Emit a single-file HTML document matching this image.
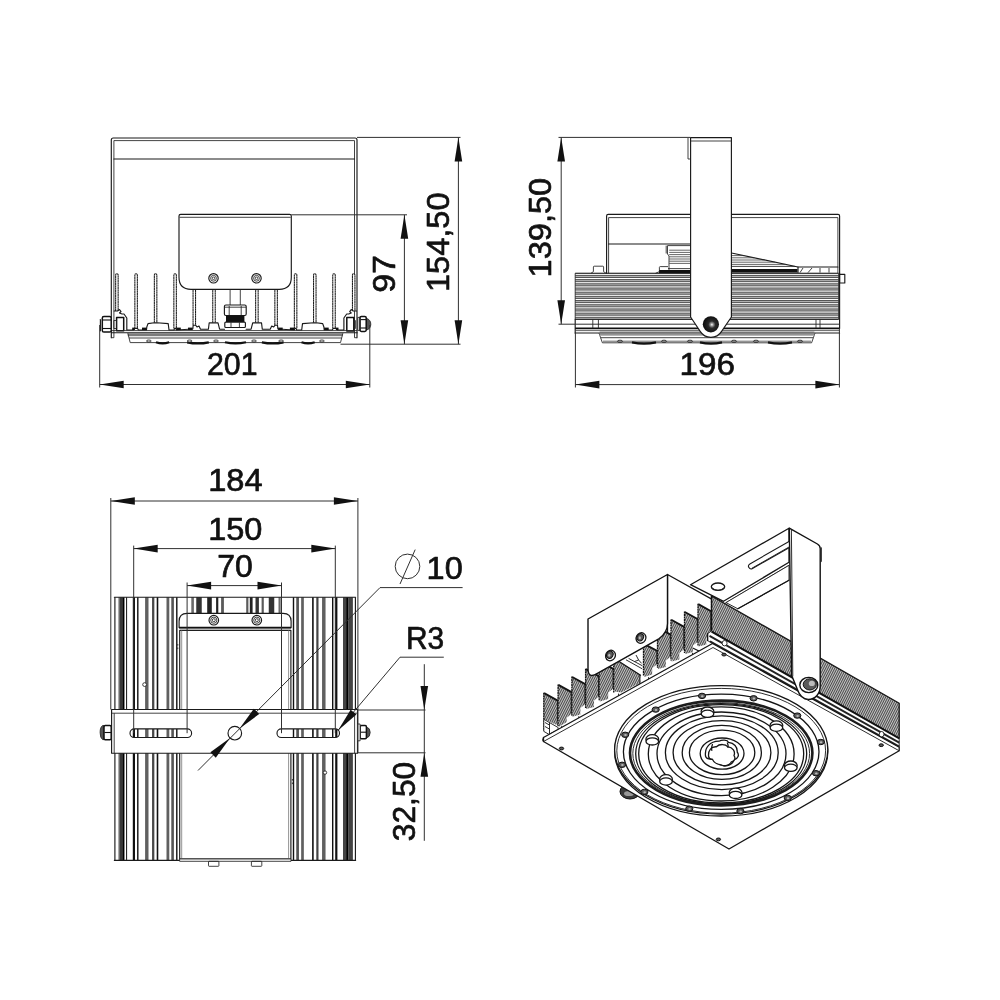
<!DOCTYPE html>
<html lang="en"><head><meta charset="utf-8"><title>Luminaire dimensions</title>
<style>
html,body{margin:0;padding:0;background:#fff}
svg{display:block;filter:grayscale(1)}
text{font-family:"Liberation Sans",sans-serif;fill:#111;stroke:#111;stroke-width:.65;stroke-linejoin:round}
.m{fill:none;stroke:#1a1a1a;stroke-width:1.15;stroke-linejoin:round;stroke-linecap:round}
.mw{fill:#fff;stroke:#1a1a1a;stroke-width:1.15;stroke-linejoin:round}
.mk{fill:none;stroke:#111;stroke-width:1.7}
.t{fill:none;stroke:#222;stroke-width:.85;stroke-linejoin:round}
.tw{fill:#fff;stroke:#222;stroke-width:.85;stroke-linejoin:round}
.d{fill:none;stroke:#303030;stroke-width:1}
.a{fill:#111;stroke:none}
.k{fill:#111;stroke:none}
.fin{fill:#fff;stroke:#1a1a1a;stroke-width:1.05;stroke-dasharray:2.1 .25}
.g{fill:none;stroke:#333;stroke-width:.75}
.hs{fill:#b4b4b4;stroke:none}
.rib{fill:none;stroke:#1c1c1c;stroke-width:.72}
.rib2{fill:none;stroke:#fff;stroke-width:.8}
.gf{fill:#888;stroke:none}
.ball{fill:#1c1c1c;stroke:none}
.hl{fill:#bbb;stroke:none}
.hat{fill:url(#hat);stroke:none}
.finl{fill:none;stroke:#111;stroke-width:1.3;stroke-dasharray:2 .5}
.mw2{fill:#fff;stroke:#111;stroke-width:1.4;stroke-linejoin:round}
.thick{fill:none;stroke:#1c1c1c;stroke-width:2.6}
.blob{fill:#3a3a3a;stroke:#111;stroke-width:1}
.blob2{fill:#999;stroke:none}
.bolt{fill:#5a5a5a;stroke:#111;stroke-width:1}
.rk{fill:none;stroke:#222;stroke-width:1.9}
.ftop{fill:none;stroke:#151515;stroke-width:1.9}
.r{fill:none;stroke:#151515;stroke-width:1.3}
.rw{fill:#fff;stroke:#151515;stroke-width:1.3}
.bn{fill:#fff;stroke:#111;stroke-width:1.5;stroke-linejoin:round}
.bl{fill:none;stroke:#111;stroke-width:1.1}
.dome{fill:#555;stroke:#222;stroke-width:.8}
#view4 .m{stroke-width:1.3;stroke:#151515}
#view4 .mw{stroke-width:1.3;stroke:#151515}
#view4 .t{stroke-width:.95}
#view4 .tw{stroke-width:.95}
.ballg{fill:url(#ballg);stroke:none}
.gfg{fill:url(#gfg);stroke:none}
.gf2{fill:#7c7c7c;stroke:none}
.lb{fill:none;stroke:#111;stroke-width:2.2}
.lt{fill:none;stroke:#777;stroke-width:.8}
</style></head>
<body>
<svg width="1000" height="1000" viewBox="0 0 1000 1000">
<rect width="1000" height="1000" fill="#fff"/>
<defs>
<pattern id="hat" width="8" height="1.12" patternUnits="userSpaceOnUse" patternTransform="rotate(29.7)">
<rect width="8" height="1.12" fill="#c6c6c6"/><rect width="8" height=".56" fill="#4a4a4a"/>
</pattern>
<radialGradient id="ballg" cx="0.56" cy="0.52" r="0.55"><stop offset="0" stop-color="#fff"/><stop offset="0.16" stop-color="#999"/><stop offset="0.4" stop-color="#2a2a2a"/><stop offset="1" stop-color="#0c0c0c"/></radialGradient>
<linearGradient id="gfg" x1="0" y1="0" x2="0" y2="1"><stop offset="0" stop-color="#666"/><stop offset="1" stop-color="#aaa"/></linearGradient>
</defs>

<g id="view1">
<path class="m" d="M111.3,337.7 V140 Q111.3,138 113.3,138 H355 Q357,138 357,140 V337.7"/>
<path class="t" d="M113.9,337.7 V140.6 H354.5 V337.7"/>
<line class="t" x1="111.3" y1="337.7" x2="113.9" y2="337.7"/>
<line class="t" x1="354.5" y1="337.7" x2="357" y2="337.7"/>
<line class="m" x1="113.9" y1="159" x2="354.5" y2="159"/>
<path class="fin" d="M115.65,311 V274.9 A1.25,1.25 0 0 1 118.15,274.9 V311"/>
<path class="fin" d="M134.85,328.4 V274.9 A1.25,1.25 0 0 1 137.35,274.9 V328.4"/>
<path class="fin" d="M154.35,322.8 V274.9 A1.25,1.25 0 0 1 156.85,274.9 V322.8"/>
<path class="fin" d="M173.85,328.4 V274.9 A1.25,1.25 0 0 1 176.35,274.9 V328.4"/>
<path class="fin" d="M193.05,325.2 V290.5 A1.25,1.25 0 0 1 195.55,290.5 V325.2"/>
<path class="fin" d="M212.75,322.8 V290.5 A1.25,1.25 0 0 1 215.25,290.5 V322.8"/>
<path class="fin" d="M255.65,322.8 V290.5 A1.25,1.25 0 0 1 258.15,290.5 V322.8"/>
<path class="fin" d="M274.85,325.2 V290.5 A1.25,1.25 0 0 1 277.35,290.5 V325.2"/>
<path class="fin" d="M294.35,328.4 V274.9 A1.25,1.25 0 0 1 296.85,274.9 V328.4"/>
<path class="fin" d="M313.55,322.8 V274.9 A1.25,1.25 0 0 1 316.05,274.9 V322.8"/>
<path class="fin" d="M332.75,328.4 V274.9 A1.25,1.25 0 0 1 335.25,274.9 V328.4"/>
<path class="fin" d="M352.45,311 V274.9 A1.25,1.25 0 0 1 354.95,274.9 V311"/>
<path class="m" d="M114.2,311 L117.5,311 L119.5,309.5 L121,311.5 L119.5,313 L122,314 L124,314 L126.8,318 L126.8,330 L133.5,330 L134.8,328.4 L137.4,328.4 L138.5,330 L146.5,330 L146.8,327 L148,323.6 L154.3,322.8 L156.9,322.8 L168.2,323.6 L169,330 L174,330 L174.6,328.4 L175.8,328.4 L176.4,330 L192.8,329 L193.2,325.2 L195.6,325.2 L197,327 L199,326 L200.5,329.2 L208.4,329.2 L209.2,322.8 L212.8,322.8 L215.2,322.8 L218,322.8 L219.6,329.2 L224.5,329.2"/>
<path class="m" d="M356.5,311 L353.2,311 L351.2,309.5 L349.7,311.5 L351.2,313 L348.7,314 L346.7,314 L343.9,318 L343.9,330 L337.2,330 L335.9,328.4 L333.3,328.4 L332.2,330 L324.2,330 L323.9,327 L322.7,323.6 L316.4,322.8 L313.8,322.8 L302.5,323.6 L301.7,330 L296.7,330 L296.1,328.4 L294.9,328.4 L294.3,330 L277.9,329 L277.5,325.2 L275.1,325.2 L273.7,327 L271.7,326 L270.2,329.2 L262.3,329.2 L261.5,322.8 L257.9,322.8 L255.5,322.8 L252.7,322.8 L251.1,329.2 L246.2,329.2"/>
<rect class="k" x="132.2" y="327.6" width="2.6" height="2.4"/>
<rect class="k" x="335.9" y="327.6" width="2.6" height="2.4"/>
<rect class="k" x="142" y="327.6" width="4.6" height="2.4"/>
<rect class="k" x="324.1" y="327.6" width="4.6" height="2.4"/>
<rect class="k" x="176.2" y="327.6" width="4.6" height="2.4"/>
<rect class="k" x="289.9" y="327.6" width="4.6" height="2.4"/>
<rect class="k" x="188" y="327.6" width="4.6" height="2.4"/>
<rect class="k" x="278.1" y="327.6" width="4.6" height="2.4"/>
<rect class="bn" x="116.6" y="317.4" width="7.1" height="13.3"/>
<rect class="bn" x="346.8" y="317.4" width="7" height="13.5"/>
<line class="t" x1="111.5" y1="330.6" x2="357.2" y2="330.6"/>
<line class="m" x1="111.5" y1="332.7" x2="357.2" y2="332.7"/>
<rect class="gf2" x="127.8" y="333.2" width="214.9" height="3"/>
<path class="t" d="M127.8,333.2 L130.2,342.6 H340.5 L342.9,333.2"/>
<line class="t" x1="129" y1="338" x2="341.7" y2="338"/>
<path class="lb" d="M156,342.3 Q162.6,344.6 169.2,342.3"/>
<path class="lb" d="M187.2,342.3 Q198,344.6 208.8,342.3"/>
<path class="lb" d="M225,342.3 Q235.5,344.6 246,342.3"/>
<path class="lb" d="M261.9,342.3 Q272.7,344.6 283.5,342.3"/>
<path class="lb" d="M301.5,342.3 Q308.1,344.6 314.7,342.3"/>
<ellipse class="tw" cx="148.8" cy="341" rx="2.4" ry="1"/>
<ellipse class="tw" cx="189.6" cy="341" rx="2.4" ry="1"/>
<ellipse class="tw" cx="216" cy="341" rx="2.4" ry="1"/>
<ellipse class="tw" cx="254" cy="341" rx="2.4" ry="1"/>
<ellipse class="tw" cx="281.1" cy="341" rx="2.4" ry="1"/>
<ellipse class="tw" cx="321.9" cy="341" rx="2.4" ry="1"/>
<rect class="bn" x="102.3" y="316.6" width="8.9" height="15.4" rx="1.6"/>
<line class="bl" x1="102.8" y1="320" x2="111" y2="320"/>
<line class="bl" x1="102.8" y1="328.5" x2="111" y2="328.5"/>
<line class="m" x1="100.4" y1="319.6" x2="100.4" y2="330.8"/>
<rect class="t" x="113.8" y="320.5" width="2.7" height="8"/>
<path class="dome" d="M366,318.2 Q370.8,319.5 370.8,324.2 Q370.8,329 366,330.2 Z"/>
<rect class="bn" x="360" y="316.4" width="6.2" height="15" rx="1.4"/>
<line class="bl" x1="360.4" y1="319.6" x2="366" y2="319.6"/>
<line class="bl" x1="360.4" y1="328" x2="366" y2="328"/>
<rect class="t" x="357.8" y="317.4" width="2.2" height="13"/>
<rect class="t" x="353.8" y="320.5" width="1.6" height="8"/>
<path class="mw" d="M179,216 Q179,214.3 180.7,214.3 H289.6 Q291.3,214.3 291.3,216 V277.3 Q291.3,289.3 279.3,289.3 H191 Q179,289.3 179,277.3 Z"/>
<line class="t" x1="179.6" y1="217.3" x2="290.7" y2="217.3"/>
<circle class="m" cx="213.5" cy="278.3" r="4.7"/>
<circle class="t" cx="213.5" cy="278.3" r="2.9"/>
<circle class="t" cx="213.5" cy="278.3" r="1.3"/>
<circle class="m" cx="256.5" cy="278.3" r="4.7"/>
<circle class="t" cx="256.5" cy="278.3" r="2.9"/>
<circle class="t" cx="256.5" cy="278.3" r="1.3"/>
<line class="t" x1="230.1" y1="289.3" x2="230.1" y2="305"/>
<line class="t" x1="240.3" y1="289.3" x2="240.3" y2="305"/>
<rect class="mw" x="224.4" y="305" width="21.8" height="10.5" rx="1.5"/>
<line class="t" x1="229.2" y1="306" x2="229.2" y2="315"/>
<line class="t" x1="241.2" y1="306" x2="241.2" y2="315"/>
<line class="t" x1="224.6" y1="307.2" x2="246" y2="307.2"/>
<rect class="k" x="226" y="315.5" width="18.4" height="6.6"/>
<rect class="mw" x="224.8" y="322.1" width="20.6" height="5.4" rx="1"/>
<line class="t" x1="231" y1="322.3" x2="231" y2="327.3"/>
<line class="t" x1="239.4" y1="322.3" x2="239.4" y2="327.3"/>
<line class="d" x1="357" y1="137.4" x2="460.5" y2="137.4"/>
<line class="d" x1="340.5" y1="344.2" x2="460.5" y2="344.2"/>
<line class="d" x1="458.4" y1="137.4" x2="458.4" y2="344.2"/>
<path class="a" d="M458.4,137.4 L462.2,161.4 L454.6,161.4Z"/>
<path class="a" d="M458.4,344.2 L454.6,320.2 L462.2,320.2Z"/>
<line class="d" x1="291.3" y1="214.8" x2="407" y2="214.8"/>
<line class="d" x1="404.4" y1="214.8" x2="404.4" y2="344.2"/>
<path class="a" d="M404.4,214.8 L408.2,238.8 L400.6,238.8Z"/>
<path class="a" d="M404.4,344.2 L400.6,320.2 L408.2,320.2Z"/>
<line class="d" x1="99.7" y1="325" x2="99.7" y2="387.5"/>
<line class="d" x1="369.8" y1="325" x2="369.8" y2="387.5"/>
<line class="d" x1="99.7" y1="384.5" x2="369.8" y2="384.5"/>
<path class="a" d="M99.7,384.5 L123.7,380.7 L123.7,388.3Z"/>
<path class="a" d="M369.8,384.5 L345.8,388.3 L345.8,380.7Z"/>
<text x="207" y="375" font-size="30.5" text-anchor="start" textLength="50.6" lengthAdjust="spacingAndGlyphs">201</text>
<text x="395.2" y="292.8" font-size="30.5" text-anchor="start" textLength="37.8" lengthAdjust="spacingAndGlyphs" transform="rotate(-90 395.2 292.8)">97</text>
<text x="448.7" y="292" font-size="30.5" text-anchor="start" textLength="99.6" lengthAdjust="spacingAndGlyphs" transform="rotate(-90 448.7 292)">154,50</text>
</g>
<g id="view2">
<path class="m" d="M606.6,273.3 V216 Q606.6,214.4 608.2,214.4 H838 Q839.6,214.4 839.6,216 V273.3"/>
<path class="t" d="M608.6,273.3 V217.6 H837.9"/>
<line class="t" x1="837.9" y1="217.6" x2="837.9" y2="273.3"/>
<line class="m" x1="608.6" y1="244" x2="690.4" y2="244"/>
<path class="t" d="M690.4,245.6 H667.5 V254 L669,256 V270"/>
<line class="t" x1="666.2" y1="245.6" x2="666.2" y2="253.5"/>
<line class="g" x1="669.2" y1="250.2" x2="690.4" y2="250.2"/>
<line class="g" x1="669.2" y1="252.4" x2="690.4" y2="252.4"/>
<line class="g" x1="669.2" y1="254.6" x2="690.4" y2="254.6"/>
<line class="g" x1="669.2" y1="256.8" x2="690.4" y2="256.8"/>
<line class="g" x1="669.2" y1="259" x2="690.4" y2="259"/>
<line class="g" x1="669.2" y1="261.2" x2="690.4" y2="261.2"/>
<line class="g" x1="669.2" y1="263.4" x2="690.4" y2="263.4"/>
<line class="t" x1="668" y1="268.6" x2="690.4" y2="268.6"/>
<rect class="k" x="659" y="270" width="31.4" height="3.2"/>
<path class="m" d="M731.5,253 L798,267 H837.9"/>
<line class="g" x1="731.5" y1="255.6" x2="743.85" y2="255.6"/>
<line class="g" x1="731.5" y1="257.8" x2="754.3" y2="257.8"/>
<line class="g" x1="731.5" y1="260" x2="764.75" y2="260"/>
<line class="g" x1="731.5" y1="262.2" x2="775.2" y2="262.2"/>
<line class="g" x1="731.5" y1="264.4" x2="785.65" y2="264.4"/>
<line class="t" x1="731.5" y1="266.4" x2="795" y2="266.4"/>
<rect class="k" x="731.5" y="269" width="66" height="3.6"/>
<path class="m" d="M798,267 V272.4"/>
<path class="t" d="M800,272.6 L803,268 M808,272.6 L812,268 M820,272.6 V268 M829,272.6 V268"/>
<path class="t" d="M591,273.3 L593.4,271.6 V267 Q593.4,266.2 594.2,266.2 H602.8 Q603.6,266.2 603.6,267 V271.6 L606,273.3"/>
<path class="t" d="M655.5,273.3 L659.4,271.6 V267.4 Q659.4,266.6 660.2,266.6 H668"/>
<rect class="m" x="839.6" y="274.4" width="5.2" height="8.6"/>
<rect class="hs" x="575.2" y="275.4" width="263.4" height="2.1"/>
<rect class="hs" x="575.2" y="279.59" width="263.4" height="2.1"/>
<rect class="hs" x="575.2" y="283.78" width="263.4" height="2.1"/>
<rect class="hs" x="575.2" y="287.97" width="263.4" height="2.1"/>
<rect class="hs" x="575.2" y="292.16" width="263.4" height="2.1"/>
<rect class="hs" x="575.2" y="296.35" width="263.4" height="2.1"/>
<rect class="hs" x="575.2" y="300.54" width="263.4" height="2.1"/>
<rect class="hs" x="575.2" y="304.73" width="263.4" height="2.1"/>
<rect class="hs" x="575.2" y="308.92" width="263.4" height="2.1"/>
<rect class="hs" x="575.2" y="313.11" width="263.4" height="2.1"/>
<rect class="hs" x="575.2" y="317.3" width="263.4" height="2.1"/>
<line class="rib" x1="575.2" y1="273.3" x2="838.6" y2="273.3"/>
<line class="rib" x1="575.2" y1="275.4" x2="838.6" y2="275.4"/>
<line class="rib" x1="575.2" y1="277.49" x2="838.6" y2="277.49"/>
<line class="rib" x1="575.2" y1="279.59" x2="838.6" y2="279.59"/>
<line class="rib" x1="575.2" y1="281.68" x2="838.6" y2="281.68"/>
<line class="rib" x1="575.2" y1="283.78" x2="838.6" y2="283.78"/>
<line class="rib" x1="575.2" y1="285.87" x2="838.6" y2="285.87"/>
<line class="rib" x1="575.2" y1="287.97" x2="838.6" y2="287.97"/>
<line class="rib" x1="575.2" y1="290.06" x2="838.6" y2="290.06"/>
<line class="rib" x1="575.2" y1="292.16" x2="838.6" y2="292.16"/>
<line class="rib" x1="575.2" y1="294.25" x2="838.6" y2="294.25"/>
<line class="rib" x1="575.2" y1="296.35" x2="838.6" y2="296.35"/>
<line class="rib" x1="575.2" y1="298.45" x2="838.6" y2="298.45"/>
<line class="rib" x1="575.2" y1="300.54" x2="838.6" y2="300.54"/>
<line class="rib" x1="575.2" y1="302.64" x2="838.6" y2="302.64"/>
<line class="rib" x1="575.2" y1="304.73" x2="838.6" y2="304.73"/>
<line class="rib" x1="575.2" y1="306.83" x2="838.6" y2="306.83"/>
<line class="rib" x1="575.2" y1="308.92" x2="838.6" y2="308.92"/>
<line class="rib" x1="575.2" y1="311.02" x2="838.6" y2="311.02"/>
<line class="rib" x1="575.2" y1="313.11" x2="838.6" y2="313.11"/>
<line class="rib" x1="575.2" y1="315.21" x2="838.6" y2="315.21"/>
<line class="rib" x1="575.2" y1="317.3" x2="838.6" y2="317.3"/>
<line class="rib" x1="575.2" y1="319.4" x2="838.6" y2="319.4"/>
<rect class="t" x="575.2" y="273.3" width="263.4" height="46.1"/>
<line class="m" x1="839.6" y1="273" x2="839.6" y2="328.4"/>
<line class="m" x1="575.2" y1="319.4" x2="575.2" y2="333"/>
<line class="d" x1="575.2" y1="324.2" x2="839.6" y2="324.2"/>
<line class="mk" x1="575.2" y1="328.4" x2="839.6" y2="328.4"/>
<line class="m" x1="575.2" y1="333" x2="839.6" y2="333"/>
<line class="g" x1="575.2" y1="330.6" x2="839.6" y2="330.6"/>
<line class="t" x1="592.8" y1="319.6" x2="592.8" y2="328.2"/>
<line class="t" x1="598.4" y1="319.6" x2="598.4" y2="328.2"/>
<line class="t" x1="816" y1="319.6" x2="816" y2="328.2"/>
<line class="t" x1="820" y1="319.6" x2="820" y2="328.2"/>
<path class="t" d="M599,333 L600.6,337.7 H813.4 L815,333"/>
<rect class="gfg" x="599.6" y="331.6" width="214.8" height="4.2"/>
<path class="t" d="M600.6,337.7 L602.4,342.8 H811.6 L813.4,337.7"/>
<line class="g" x1="603" y1="341.2" x2="811" y2="341.2"/>
<path class="lb" d="M632,342.4 Q644,344.8 656,342.4"/>
<path class="lb" d="M700,342.4 Q711,344.8 722,342.4"/>
<path class="lb" d="M768,342.4 Q780,344.8 792,342.4"/>
<ellipse class="t" cx="620" cy="341.3" rx="2.6" ry="1.1"/>
<ellipse class="t" cx="664" cy="341.3" rx="2.6" ry="1.1"/>
<ellipse class="t" cx="690" cy="341.3" rx="2.6" ry="1.1"/>
<ellipse class="t" cx="734" cy="341.3" rx="2.6" ry="1.1"/>
<ellipse class="t" cx="756" cy="341.3" rx="2.6" ry="1.1"/>
<ellipse class="t" cx="800" cy="341.3" rx="2.6" ry="1.1"/>
<path class="t" d="M688,138 V159 H690.4"/>
<path class="mw" d="M690.6,137.6 H731.4 V317 L721.6,331.4 A12.65,12.65 0 0 1 700.2,331.4 L690.6,317 Z"/>
<line class="t" x1="690.4" y1="141" x2="731.5" y2="141"/>
<circle class="ballg" cx="710.9" cy="324.3" r="8.1"/>
<line class="d" x1="558.5" y1="137.4" x2="690.4" y2="137.4"/>
<line class="d" x1="558.5" y1="324.2" x2="575.2" y2="324.2"/>
<line class="d" x1="561.2" y1="137.4" x2="561.2" y2="324.2"/>
<path class="a" d="M561.2,137.4 L565,161.4 L557.4,161.4Z"/>
<path class="a" d="M561.2,324.2 L557.4,300.2 L565,300.2Z"/>
<line class="d" x1="575.4" y1="333" x2="575.4" y2="387.5"/>
<line class="d" x1="839.4" y1="328" x2="839.4" y2="387.5"/>
<line class="d" x1="575.4" y1="384.6" x2="839.4" y2="384.6"/>
<path class="a" d="M575.4,384.6 L599.4,380.8 L599.4,388.4Z"/>
<path class="a" d="M839.4,384.6 L815.4,388.4 L815.4,380.8Z"/>
<text x="679.6" y="375" font-size="30.5" text-anchor="start" textLength="55.4" lengthAdjust="spacingAndGlyphs">196</text>
<text x="551.4" y="277.4" font-size="30.5" text-anchor="start" textLength="99.6" lengthAdjust="spacingAndGlyphs" transform="rotate(-90 551.4 277.4)">139,50</text>
</g>
<g id="view3">
<line x1="114.9" y1="597.2" x2="114.9" y2="860.4" stroke="#111" stroke-width="1.1"/>
<line x1="119.2" y1="597.2" x2="119.2" y2="860.4" stroke="#6a6a6a" stroke-width="1.5"/>
<line x1="121.5" y1="597.2" x2="121.5" y2="860.4" stroke="#383838" stroke-width="3.2"/>
<line x1="123.7" y1="597.2" x2="123.7" y2="860.4" stroke="#000" stroke-width="1.5"/>
<line x1="126.6" y1="597.2" x2="126.6" y2="860.4" stroke="#111" stroke-width="1"/>
<line x1="133.9" y1="597.2" x2="133.9" y2="860.4" stroke="#111" stroke-width="2.2"/>
<line x1="137.8" y1="597.2" x2="137.8" y2="860.4" stroke="#111" stroke-width="1.4"/>
<line x1="146.8" y1="597.2" x2="146.8" y2="860.4" stroke="#606060" stroke-width="3.4"/>
<line x1="153.2" y1="597.2" x2="153.2" y2="860.4" stroke="#484848" stroke-width="2.3"/>
<line x1="157.5" y1="597.2" x2="157.5" y2="860.4" stroke="#111" stroke-width="1.6"/>
<line x1="167.9" y1="597.2" x2="167.9" y2="860.4" stroke="#606060" stroke-width="2.8"/>
<line x1="172.6" y1="597.2" x2="172.6" y2="860.4" stroke="#555" stroke-width="2.6"/>
<line x1="176.8" y1="597.2" x2="176.8" y2="860.4" stroke="#111" stroke-width="1.4"/>
<line x1="293.5" y1="597.2" x2="293.5" y2="860.4" stroke="#111" stroke-width="1.4"/>
<line x1="297.6" y1="597.2" x2="297.6" y2="860.4" stroke="#555" stroke-width="2.7"/>
<line x1="302.5" y1="597.2" x2="302.5" y2="860.4" stroke="#606060" stroke-width="2.7"/>
<line x1="312.9" y1="597.2" x2="312.9" y2="860.4" stroke="#111" stroke-width="1.6"/>
<line x1="317.4" y1="597.2" x2="317.4" y2="860.4" stroke="#444" stroke-width="2.2"/>
<line x1="323.8" y1="597.2" x2="323.8" y2="860.4" stroke="#606060" stroke-width="3.5"/>
<line x1="332.7" y1="597.2" x2="332.7" y2="860.4" stroke="#111" stroke-width="1.4"/>
<line x1="336.3" y1="597.2" x2="336.3" y2="860.4" stroke="#111" stroke-width="2.2"/>
<line x1="344.6" y1="597.2" x2="344.6" y2="860.4" stroke="#444" stroke-width="3.2"/>
<line x1="347.3" y1="597.2" x2="347.3" y2="860.4" stroke="#000" stroke-width="2.3"/>
<line x1="350.6" y1="597.2" x2="350.6" y2="860.4" stroke="#444" stroke-width="4.6"/>
<line x1="355.4" y1="597.2" x2="355.4" y2="860.4" stroke="#111" stroke-width="1.1"/>
<line x1="192.6" y1="597.2" x2="192.6" y2="613.5" stroke="#6a6a6a" stroke-width="2.6"/>
<line x1="199" y1="597.2" x2="199" y2="613.5" stroke="#333" stroke-width="5.5"/>
<line x1="209.5" y1="597.2" x2="209.5" y2="613.5" stroke="#222" stroke-width="4.6"/>
<line x1="217.2" y1="597.2" x2="217.2" y2="613.5" stroke="#222" stroke-width="2.2"/>
<line x1="222.5" y1="597.2" x2="222.5" y2="613.5" stroke="#5a5a5a" stroke-width="2.8"/>
<line x1="247.3" y1="597.2" x2="247.3" y2="613.5" stroke="#5a5a5a" stroke-width="2.2"/>
<line x1="251.2" y1="597.2" x2="251.2" y2="613.5" stroke="#222" stroke-width="2.8"/>
<line x1="257.2" y1="597.2" x2="257.2" y2="613.5" stroke="#333" stroke-width="3.4"/>
<line x1="262.7" y1="597.2" x2="262.7" y2="613.5" stroke="#5a5a5a" stroke-width="2.2"/>
<line x1="271.5" y1="597.2" x2="271.5" y2="613.5" stroke="#333" stroke-width="5.5"/>
<line x1="279.6" y1="597.2" x2="279.6" y2="613.5" stroke="#6a6a6a" stroke-width="2.2"/>
<line class="m" x1="114.4" y1="597.2" x2="355.6" y2="597.2"/>
<line class="m" x1="114.4" y1="860.4" x2="179.5" y2="860.4"/>
<line class="m" x1="291" y1="860.4" x2="355.6" y2="860.4"/>
<circle class="tw" cx="144.6" cy="684.6" r="1.9"/>
<circle class="tw" cx="325" cy="772.6" r="1.7"/>
<path class="mw" d="M179.7,630.4 V859 H290.9 V630.4 Z"/>
<path class="mw" d="M179.1,627.6 V621.3 Q179.1,613.3 187.1,613.3 H283.1 Q291.1,613.3 291.1,621.3 V627.6 Z"/>
<line class="mk" x1="179.1" y1="627.6" x2="291.1" y2="627.6"/>
<line class="t" x1="180" y1="630.4" x2="290.2" y2="630.4"/>
<line class="lt" x1="181.7" y1="630.4" x2="181.7" y2="709.5"/>
<line class="lt" x1="288.6" y1="630.4" x2="288.6" y2="709.5"/>
<line class="lt" x1="181.7" y1="753.2" x2="181.7" y2="858.5"/>
<line class="lt" x1="288.6" y1="753.2" x2="288.6" y2="858.5"/>
<line class="lt" x1="181" y1="858.5" x2="289.4" y2="858.5"/>
<path class="tw" d="M179.6,859 H291 V861.3 H179.6 Z"/>
<rect class="t" x="208.5" y="861.3" width="10.4" height="5" rx="0.6"/>
<rect class="t" x="251.4" y="861.3" width="10.4" height="5" rx="0.6"/>
<circle class="m" cx="213.8" cy="620.2" r="4.8"/>
<circle class="t" cx="213.8" cy="620.2" r="3.1"/>
<circle class="t" cx="213.8" cy="620.2" r="1.5"/>
<circle class="m" cx="256.8" cy="620.2" r="4.8"/>
<circle class="t" cx="256.8" cy="620.2" r="3.1"/>
<circle class="t" cx="256.8" cy="620.2" r="1.5"/>
<path class="t" d="M177.8,644 v1.6 M177.8,647.5 v1.6"/>
<path class="t" d="M292.4,779 v1.6 M292.4,782.5 v1.6"/>
<rect class="mw" x="111.6" y="709.5" width="245.9" height="43.7"/>
<line class="t" x1="111.6" y1="713.2" x2="357.5" y2="713.2"/>
<line class="t" x1="114.2" y1="713.2" x2="114.2" y2="753.2"/>
<line class="t" x1="354.6" y1="713.2" x2="354.6" y2="753.2"/>
<clipPath id="sl130"><rect x="130" y="728.9" width="61.6" height="8.6" rx="4.3"/></clipPath>
<g clip-path="url(#sl130)"><line x1="114.9" y1="728" x2="114.9" y2="738.5" stroke="#111" stroke-width="1.1"/><line x1="119.2" y1="728" x2="119.2" y2="738.5" stroke="#6a6a6a" stroke-width="1.5"/><line x1="121.5" y1="728" x2="121.5" y2="738.5" stroke="#383838" stroke-width="3.2"/><line x1="123.7" y1="728" x2="123.7" y2="738.5" stroke="#000" stroke-width="1.5"/><line x1="126.6" y1="728" x2="126.6" y2="738.5" stroke="#111" stroke-width="1"/><line x1="133.9" y1="728" x2="133.9" y2="738.5" stroke="#111" stroke-width="2.2"/><line x1="137.8" y1="728" x2="137.8" y2="738.5" stroke="#111" stroke-width="1.4"/><line x1="146.8" y1="728" x2="146.8" y2="738.5" stroke="#606060" stroke-width="3.4"/><line x1="153.2" y1="728" x2="153.2" y2="738.5" stroke="#484848" stroke-width="2.3"/><line x1="157.5" y1="728" x2="157.5" y2="738.5" stroke="#111" stroke-width="1.6"/><line x1="167.9" y1="728" x2="167.9" y2="738.5" stroke="#606060" stroke-width="2.8"/><line x1="172.6" y1="728" x2="172.6" y2="738.5" stroke="#555" stroke-width="2.6"/><line x1="176.8" y1="728" x2="176.8" y2="738.5" stroke="#111" stroke-width="1.4"/></g>
<rect class="m" x="130" y="728.9" width="61.6" height="8.6" rx="4.3"/>
<clipPath id="sl277"><rect x="277" y="728.9" width="62.5" height="8.6" rx="4.3"/></clipPath>
<g clip-path="url(#sl277)"><line x1="293.5" y1="728" x2="293.5" y2="738.5" stroke="#111" stroke-width="1.4"/><line x1="297.6" y1="728" x2="297.6" y2="738.5" stroke="#555" stroke-width="2.7"/><line x1="302.5" y1="728" x2="302.5" y2="738.5" stroke="#606060" stroke-width="2.7"/><line x1="312.9" y1="728" x2="312.9" y2="738.5" stroke="#111" stroke-width="1.6"/><line x1="317.4" y1="728" x2="317.4" y2="738.5" stroke="#444" stroke-width="2.2"/><line x1="323.8" y1="728" x2="323.8" y2="738.5" stroke="#606060" stroke-width="3.5"/><line x1="332.7" y1="728" x2="332.7" y2="738.5" stroke="#111" stroke-width="1.4"/><line x1="336.3" y1="728" x2="336.3" y2="738.5" stroke="#111" stroke-width="2.2"/><line x1="344.6" y1="728" x2="344.6" y2="738.5" stroke="#444" stroke-width="3.2"/><line x1="347.3" y1="728" x2="347.3" y2="738.5" stroke="#000" stroke-width="2.3"/><line x1="350.6" y1="728" x2="350.6" y2="738.5" stroke="#444" stroke-width="4.6"/><line x1="355.4" y1="728" x2="355.4" y2="738.5" stroke="#111" stroke-width="1.1"/></g>
<rect class="m" x="277" y="728.9" width="62.5" height="8.6" rx="4.3"/>
<circle class="m" cx="234.8" cy="733.2" r="6.8"/>
<path class="dome" d="M104,725.6 H102.6 Q100.1,727 100.1,732.5 Q100.1,738 102.6,739.6 H104 Z"/>
<rect class="bn" x="104" y="725.5" width="7.2" height="14.2" rx="1.2"/>
<line class="bl" x1="104.4" y1="732.5" x2="111" y2="732.5"/>
<path class="dome" d="M366.4,727 Q370.2,728 370.2,732.4 Q370.2,737 366.4,738 Z"/>
<rect class="bn" x="360.2" y="725.6" width="6.2" height="13.2" rx="1.2"/>
<line class="bl" x1="360.6" y1="732.2" x2="366.2" y2="732.2"/>
<rect class="tw" x="357.6" y="724" width="2.5" height="16.8"/>
<line class="d" x1="110.8" y1="498" x2="110.8" y2="709.5"/>
<line class="d" x1="357.9" y1="498" x2="357.9" y2="753"/>
<line class="d" x1="110.8" y1="501" x2="357.9" y2="501"/>
<path class="a" d="M110.8,501 L134.8,497.2 L134.8,504.8Z"/>
<path class="a" d="M357.9,501 L333.9,504.8 L333.9,497.2Z"/>
<line class="d" x1="133.7" y1="545.6" x2="133.7" y2="733.2"/>
<line class="d" x1="335.3" y1="545.6" x2="335.3" y2="733.2"/>
<line class="d" x1="133.7" y1="548.6" x2="335.3" y2="548.6"/>
<path class="a" d="M133.7,548.6 L157.7,544.8 L157.7,552.4Z"/>
<path class="a" d="M335.3,548.6 L311.3,552.4 L311.3,544.8Z"/>
<line class="d" x1="187.1" y1="582.5" x2="187.1" y2="733.2"/>
<line class="d" x1="281.5" y1="582.5" x2="281.5" y2="733.2"/>
<line class="d" x1="187.1" y1="585.6" x2="281.5" y2="585.6"/>
<path class="a" d="M187.1,585.6 L211.1,581.8 L211.1,589.4Z"/>
<path class="a" d="M281.5,585.6 L257.5,589.4 L257.5,581.8Z"/>
<path class="d" d="M198,770.5 L380,587.6 H462.6"/>
<path class="a" d="M230,738.02 L215.77,757.71 L210.38,752.35Z"/>
<path class="a" d="M239.6,728.38 L253.83,708.69 L259.22,714.05Z"/>
<circle class="d" cx="407.5" cy="566.4" r="12.3"/>
<line class="d" x1="400" y1="584" x2="415.2" y2="549.6"/>
<path class="d" d="M338,730.4 L400,657.2 H443.8"/>
<path class="a" d="M338,730.4 L350.61,709.63 L356.41,714.54Z"/>
<line class="d" x1="357.5" y1="710" x2="425.5" y2="710"/>
<line class="d" x1="357.5" y1="752.8" x2="425.5" y2="752.8"/>
<line class="d" x1="424.3" y1="664.2" x2="424.3" y2="840.8"/>
<path class="a" d="M424.3,710 L420.5,686 L428.1,686Z"/>
<path class="a" d="M424.3,752.8 L428.1,776.8 L420.5,776.8Z"/>
<text x="208.2" y="490.6" font-size="30.5" text-anchor="start" textLength="54.4" lengthAdjust="spacingAndGlyphs">184</text>
<text x="208.2" y="539.7" font-size="30.5" text-anchor="start" textLength="54.2" lengthAdjust="spacingAndGlyphs">150</text>
<text x="217.2" y="577" font-size="30.5" text-anchor="start" textLength="35.6" lengthAdjust="spacingAndGlyphs">70</text>
<text x="426.6" y="579" font-size="30.5" text-anchor="start" textLength="36.2" lengthAdjust="spacingAndGlyphs">10</text>
<text x="406" y="649" font-size="30.5" text-anchor="start" textLength="38.2" lengthAdjust="spacingAndGlyphs">R3</text>
<text x="415.2" y="841.2" font-size="30.5" text-anchor="start" textLength="79.4" lengthAdjust="spacingAndGlyphs" transform="rotate(-90 415.2 841.2)">32,50</text>
</g>
<g id="view4">
<path class="mw" d="M789,528.2 L690.5,584.7 L723.5,601.3 L789,562.3Z"/>
<line class="t" x1="789" y1="565.3" x2="723.5" y2="604.2"/>
<path class="tw" d="M789,565.3 L726,602.6 L737.8,608.8 L789,580.3Z"/>
<line class="m" x1="789" y1="580.3" x2="737.8" y2="608.8"/>
<line x1="751.2" y1="566.2" x2="796" y2="540.6" stroke="#1a1a1a" stroke-width="6.4" stroke-linecap="round"/>
<line x1="751.2" y1="566.2" x2="796" y2="540.6" stroke="#fff" stroke-width="4.2" stroke-linecap="round"/>
<line class="t" x1="752" y1="568.2" x2="796" y2="543"/>
<ellipse class="mw" cx="718" cy="586.7" rx="6.7" ry="3.7"/>
<path class="t" d="M711.6,587.6 Q718,593 724.4,587.6"/>
<path class="mw" d="M667.5,574.5 L722,604.9 L722,662 L667.5,636Z"/>
<path class="hat" d="M543.8,692.8 L558.1,700.52 L558.1,725.52 L543.8,719.3Z"/>
<line class="finl" x1="543.8" y1="692.8" x2="543.8" y2="730.83"/>
<line class="ftop" x1="544.1" y1="693.2" x2="558.1" y2="700.92"/>
<line class="t" x1="557.4" y1="700.52" x2="557.4" y2="721.38"/>
<path class="hat" d="M558.1,684.55 L571.9,692 L571.9,713.7 L566.66,717.7 L566.66,722.12 L558.7,726.88Z"/>
<line class="finl" x1="558.1" y1="684.55" x2="558.1" y2="725.88"/>
<line class="ftop" x1="558.4" y1="684.95" x2="571.9" y2="692.4"/>
<line class="t" x1="571.2" y1="692" x2="571.2" y2="713.7"/>
<path class="hat" d="M571.9,676.58 L585.6,683.98 L585.6,704.08 L580.39,708.08 L580.39,714.48 L572.5,716.7Z"/>
<line class="finl" x1="571.9" y1="676.58" x2="571.9" y2="715.7"/>
<line class="ftop" x1="572.2" y1="676.98" x2="585.6" y2="684.38"/>
<line class="t" x1="584.9" y1="683.98" x2="584.9" y2="704.08"/>
<path class="hat" d="M585.6,668.67 L599.2,676.02 L599.2,696.52 L594.03,700.52 L594.03,706.89 L586.2,709.08Z"/>
<line class="finl" x1="585.6" y1="668.67" x2="585.6" y2="708.08"/>
<line class="ftop" x1="585.9" y1="669.07" x2="599.2" y2="676.42"/>
<line class="t" x1="598.5" y1="676.02" x2="598.5" y2="696.52"/>
<path class="hat" d="M599.2,660.82 L613.7,668.65 L613.7,688.45 L608.19,692.45 L608.19,699.02 L599.8,701.52Z"/>
<line class="finl" x1="599.2" y1="660.82" x2="599.2" y2="700.52"/>
<line class="ftop" x1="599.5" y1="661.22" x2="613.7" y2="669.05"/>
<line class="t" x1="613" y1="668.65" x2="613" y2="688.45"/>
<path class="hat" d="M613.7,657.9 L640.5,674.8 L640.5,683.2 L636.8,685.2 L636.8,684.4 L621.2,692.6 L614.3,691.4Z"/>
<line class="finl" x1="613.7" y1="657.9" x2="613.7" y2="692.45"/>
<line class="m" x1="614" y1="658.3" x2="640.5" y2="675.2"/>
<line class="t" x1="639.8" y1="674.8" x2="639.8" y2="683.2"/>
<path class="hat" d="M643.5,643.4 L657.5,650.6 L657.5,664.09 L652.18,668.09 L652.18,674.55 L644.1,676.88Z"/>
<line class="finl" x1="643.5" y1="643.4" x2="643.5" y2="675.88"/>
<line class="ftop" x1="643.8" y1="643.8" x2="657.5" y2="651"/>
<line class="t" x1="656.8" y1="650.6" x2="656.8" y2="664.09"/>
<path class="hat" d="M657.5,627.17 L671,634.46 L671,656.58 L665.87,660.58 L665.87,666.94 L658.1,669.09Z"/>
<line class="finl" x1="657.5" y1="627.17" x2="657.5" y2="668.09"/>
<line class="ftop" x1="657.8" y1="627.57" x2="671" y2="634.86"/>
<line class="t" x1="670.3" y1="634.46" x2="670.3" y2="656.58"/>
<path class="hat" d="M671,619.38 L684.5,626.67 L684.5,649.07 L679.37,653.07 L679.37,659.43 L671.6,661.58Z"/>
<line class="finl" x1="671" y1="619.38" x2="671" y2="660.58"/>
<line class="ftop" x1="671.3" y1="619.78" x2="684.5" y2="627.07"/>
<line class="t" x1="683.8" y1="626.67" x2="683.8" y2="649.07"/>
<path class="hat" d="M684.5,611.59 L698,618.88 L698,641.57 L692.87,645.57 L692.87,651.92 L685.1,654.07Z"/>
<line class="finl" x1="684.5" y1="611.59" x2="684.5" y2="653.07"/>
<line class="ftop" x1="684.8" y1="611.99" x2="698" y2="619.28"/>
<line class="t" x1="697.3" y1="618.88" x2="697.3" y2="641.57"/>
<path class="hat" d="M698,603.8 L711.5,611.09 L711.5,634.06 L706.37,638.06 L706.37,644.41 L698.6,646.57Z"/>
<line class="finl" x1="698" y1="603.8" x2="698" y2="645.57"/>
<line class="ftop" x1="698.3" y1="604.2" x2="711.5" y2="611.49"/>
<line class="t" x1="710.8" y1="611.09" x2="710.8" y2="634.06"/>
<path class="tw" d="M543.8,719.3 L558.1,727.5 L558.1,729.5 L549,734.4 L543.8,731.4Z"/>
<path class="t" d="M545,722.5 l4.5,2.6 M545,726.5 l4.5,2.6 M549.5,722.8 V733.8"/>
<path class="t" d="M626,659.8 L642.2,668.8 M628.6,658.4 L642.4,665.8 M636,655 L638.6,660 M634.4,661.6 L638.6,660 L641.6,663.4"/>
<path class="t" d="M561.5,726.2 v2.6 l1.6,0.4 l1.2,-2.2"/>
<path class="t" d="M578.8,716.2 v2.6 l1.6,0.4 l1.2,-2.2"/>
<path class="t" d="M618.5,693.6 v2.6 l1.6,0.4 l1.2,-2.2"/>
<path class="t" d="M648.5,677.2 v2.6 l1.6,0.4 l1.2,-2.2"/>
<path class="t" d="M692.5,652.8 v2.6 l1.6,0.4 l1.2,-2.2"/>
<path class="hat" d="M711.5,596 L899.2,703.2 L899.2,738 L711.5,631Z"/>
<path class="m" d="M711.5,596 L899.2,703.2 L899.2,738 L711.5,631Z"/>
<line class="finl" x1="711.5" y1="596" x2="711.5" y2="631"/>
<path class="tw" d="M707.6,633.6 L711.5,631 L899.2,738 L899.2,747.2 L712.5,643.5 L707.6,640.6Z"/>
<line class="mk" x1="711.5" y1="631.72" x2="899.2" y2="738.54"/>
<line class="rk" x1="709.5" y1="635.85" x2="899.2" y2="742.59"/>
<line class="rk" x1="710" y1="641.27" x2="899.2" y2="746.56"/>
<line class="m" x1="707.6" y1="633.6" x2="707.6" y2="640.6"/>
<ellipse class="tw" cx="724.6" cy="643.2" rx="2.5" ry="2.7"/>
<ellipse class="tw" cx="881.6" cy="734.2" rx="2.4" ry="2.7"/>
<ellipse class="blob" cx="630" cy="791.5" rx="10" ry="7.5"/>
<ellipse class="blob2" cx="629" cy="793.5" rx="5" ry="2.6"/>
<path class="mw" d="M543.5,737.5 L712.5,643.5 L899.2,747.2 L899.2,750.8 L729,849 L543.5,741.5Z"/>
<path class="t" d="M543.5,741.5 L713,647.5 L899.2,750.8"/>
<path class="m" d="M543.5,737.5 q-1.2,2 0,4"/>
<ellipse class="bolt" cx="561.5" cy="748.5" rx="2.2" ry="1.4"/>
<ellipse class="bolt" cx="724" cy="654.6" rx="2.2" ry="1.4"/>
<ellipse class="bolt" cx="881.2" cy="745.2" rx="2.2" ry="1.4"/>
<ellipse class="bolt" cx="718.4" cy="839.4" rx="2.2" ry="1.4"/>
<ellipse class="rw" cx="721.2" cy="751.8" rx="106.6" ry="64.2"/>
<ellipse class="rw" cx="721.2" cy="749.8" rx="106.6" ry="64.2"/>
<ellipse class="t" cx="721.2" cy="750.8" rx="104.4" ry="62.4"/>
<ellipse class="r" cx="721.2" cy="751.8" rx="97.8" ry="57.6"/>
<ellipse class="thick" cx="721.2" cy="753" rx="91.2" ry="52.4"/>
<ellipse class="t" cx="721.2" cy="753.5" rx="88.4" ry="50.8"/>
<ellipse class="r" cx="721.2" cy="753.8" rx="85.5" ry="50.2"/>
<ellipse class="r" cx="721.2" cy="753.8" rx="82.5" ry="49.2"/>
<ellipse class="r" cx="721.2" cy="753.9" rx="72.9" ry="47.1"/>
<ellipse class="r" cx="721.5" cy="753.8" rx="64.5" ry="41.8"/>
<ellipse class="r" cx="721.8" cy="752.7" rx="56.4" ry="36.9"/>
<ellipse class="r" cx="722" cy="752.7" rx="48.9" ry="32.1"/>
<ellipse class="r" cx="721.8" cy="752.4" rx="39.6" ry="27"/>
<ellipse class="r" cx="722.1" cy="752.4" rx="32.7" ry="22.2"/>
<ellipse class="r" cx="722.1" cy="753.6" rx="21.9" ry="15.6"/>
<ellipse class="mw" cx="707.5" cy="711.6" rx="6.4" ry="4.6"/>
<ellipse class="mw" cx="707.5" cy="713.8" rx="6.3" ry="3.6"/>
<ellipse class="mw" cx="776.4" cy="725.5" rx="6.4" ry="4.6"/>
<ellipse class="mw" cx="776.4" cy="727.7" rx="6.3" ry="3.6"/>
<ellipse class="mw" cx="790.8" cy="765.6" rx="6.4" ry="4.6"/>
<ellipse class="mw" cx="790.8" cy="767.8" rx="6.3" ry="3.6"/>
<ellipse class="mw" cx="735.6" cy="792.7" rx="6.4" ry="4.6"/>
<ellipse class="mw" cx="735.6" cy="794.9" rx="6.3" ry="3.6"/>
<ellipse class="mw" cx="666" cy="779.3" rx="6.4" ry="4.6"/>
<ellipse class="mw" cx="666" cy="781.5" rx="6.3" ry="3.6"/>
<ellipse class="mw" cx="652.3" cy="739.2" rx="6.4" ry="4.6"/>
<ellipse class="mw" cx="652.3" cy="741.4" rx="6.3" ry="3.6"/>
<ellipse class="bolt" cx="702" cy="695.9" rx="3.6" ry="2.7"/>
<ellipse class="hl" cx="702.3" cy="696.2" rx="1.3" ry="1"/>
<ellipse class="bolt" cx="753.6" cy="698.3" rx="3.6" ry="2.7"/>
<ellipse class="hl" cx="753.9" cy="698.6" rx="1.3" ry="1"/>
<ellipse class="bolt" cx="797.3" cy="715.6" rx="3.6" ry="2.7"/>
<ellipse class="hl" cx="797.6" cy="715.9" rx="1.3" ry="1"/>
<ellipse class="bolt" cx="820.8" cy="742" rx="3.6" ry="2.7"/>
<ellipse class="hl" cx="821.1" cy="742.3" rx="1.3" ry="1"/>
<ellipse class="bolt" cx="816" cy="773.2" rx="3.6" ry="2.7"/>
<ellipse class="hl" cx="816.3" cy="773.5" rx="1.3" ry="1"/>
<ellipse class="bolt" cx="787.7" cy="797.9" rx="3.6" ry="2.7"/>
<ellipse class="hl" cx="788" cy="798.2" rx="1.3" ry="1"/>
<ellipse class="bolt" cx="740.4" cy="811.1" rx="3.6" ry="2.7"/>
<ellipse class="hl" cx="740.7" cy="811.4" rx="1.3" ry="1"/>
<ellipse class="bolt" cx="689.3" cy="808.7" rx="3.6" ry="2.7"/>
<ellipse class="hl" cx="689.6" cy="809" rx="1.3" ry="1"/>
<ellipse class="bolt" cx="644.4" cy="791.9" rx="3.6" ry="2.7"/>
<ellipse class="hl" cx="644.7" cy="792.2" rx="1.3" ry="1"/>
<ellipse class="bolt" cx="622.1" cy="764.8" rx="3.6" ry="2.7"/>
<ellipse class="hl" cx="622.4" cy="765.1" rx="1.3" ry="1"/>
<ellipse class="bolt" cx="625.2" cy="734.8" rx="3.6" ry="2.7"/>
<ellipse class="hl" cx="625.5" cy="735.1" rx="1.3" ry="1"/>
<ellipse class="bolt" cx="655.7" cy="709.6" rx="3.6" ry="2.7"/>
<ellipse class="hl" cx="656" cy="709.9" rx="1.3" ry="1"/>
<path class="mw" d="M705.5,756 C704.5,747 710,741.5 719,741.2 C722,739.6 727.5,739.8 728.6,742.4 C734,743 737.6,747 737.2,752 C739.6,755 738,758.6 734.4,759.6 C732.6,764.6 727,767 722.4,765.4 C717.6,764.6 714.6,761.6 712.6,759 C708.6,759.4 706,758 705.5,756 Z"/>
<path class="mw" d="M708.6,756.4 C708,750.4 711.4,746.4 716.4,746.8 C719.6,743.6 725.6,744 727.6,746.6 C733,747.4 735.6,751.6 734,755.6 C736,758.4 734.4,761.4 731.4,761.8 C729.6,765.8 724.4,766.6 721,764.8 C716.4,764.4 713.6,761.8 712.4,759.2 C710,759.4 708.8,758.2 708.6,756.4 Z"/>
<path class="m" d="M712.4,744.6 Q711,748 711.8,750.4 M727.4,743 Q728.6,745.4 728,747.4"/>
<path class="mw2" d="M588,619 L667.5,574.5 V623.5 Q667.5,632.5 659.2,638.54 L597.4,673.46 Q588,679.27 588,668.5 Z"/>
<ellipse class="mw" cx="641" cy="638" rx="4.8" ry="5.4" transform="rotate(28 641 638)"/>
<ellipse class="bolt" cx="640.1" cy="637.7" rx="3.1" ry="3.7" transform="rotate(28 641 638)"/>
<ellipse class="hl" cx="639.8" cy="637.8" rx="1.1" ry="1.5"/>
<ellipse class="mw" cx="610.5" cy="655.5" rx="4.8" ry="5.4" transform="rotate(28 610.5 655.5)"/>
<ellipse class="bolt" cx="609.6" cy="655.2" rx="3.1" ry="3.7" transform="rotate(28 610.5 655.5)"/>
<ellipse class="hl" cx="609.3" cy="655.3" rx="1.1" ry="1.5"/>
<path class="mw2" d="M789.3,528.2 L817.4,544 Q820.2,545.6 820.2,548.6 V686 C820.2,694 815,699.4 808.3,699.4 C803,699.4 799.4,695.4 797.4,689.6 L791.6,675.3 L789.3,528.2 Z"/>
<path class="t" d="M791.4,529.6 L792.8,676.4 "/>
<path class="t" d="M821.4,547.4 V561.6 H820.2"/>
<ellipse class="mw2" cx="808.8" cy="685" rx="9" ry="7.6"/>
<ellipse class="bolt" cx="809.8" cy="684.4" rx="6.6" ry="5.6"/>
<ellipse class="hl" cx="811.8" cy="683.4" rx="3" ry="2.6"/>
</g>
</svg>
</body></html>
